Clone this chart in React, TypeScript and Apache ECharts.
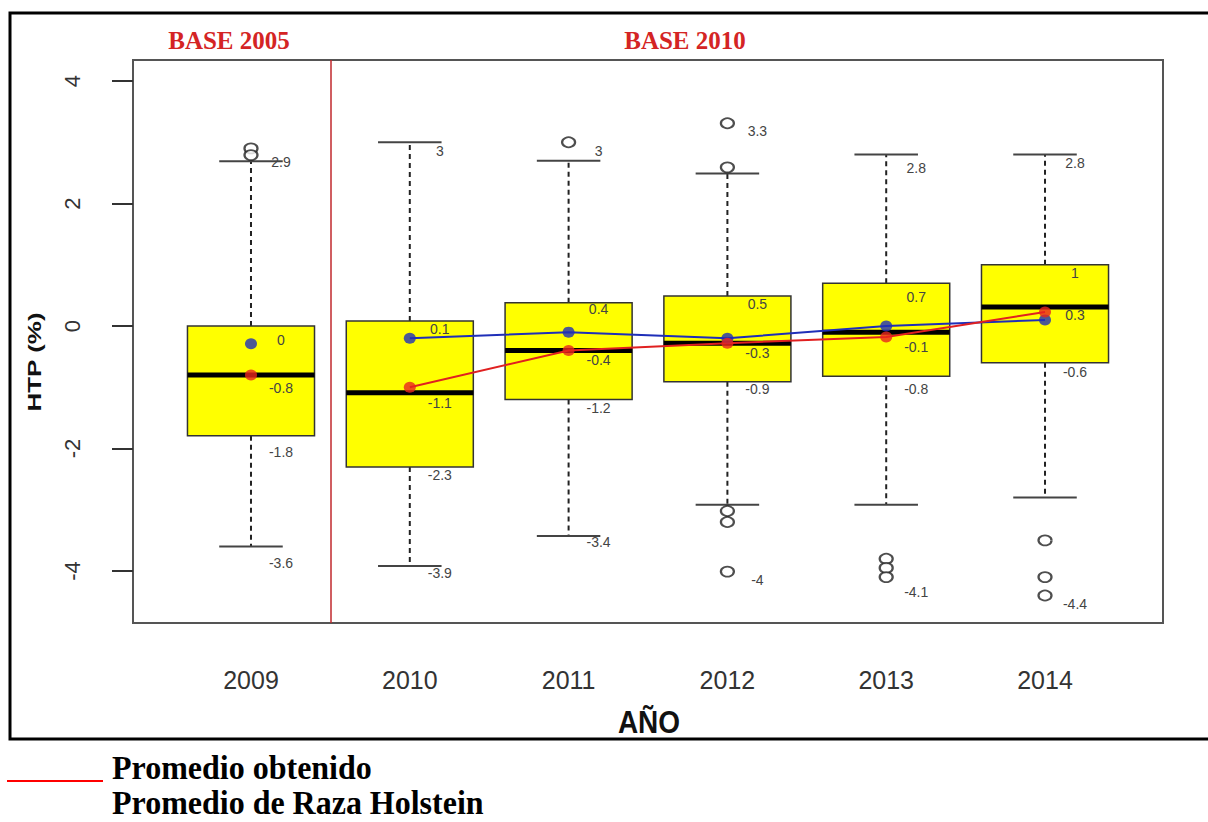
import React, { useEffect, useRef } from "react";
import * as echarts from "echarts";

// ---- data ----
const years = [2009, 2010, 2011, 2012, 2013, 2014];
const whiskerLow = [-3.6, -3.92, -3.43, -2.92, -2.92, -2.8];
const q1 = [-1.79, -2.3, -1.2, -0.91, -0.82, -0.6];
const median = [-0.8, -1.09, -0.4, -0.28, -0.1, 0.31];
const q3 = [0.0, 0.08, 0.38, 0.49, 0.7, 1.0];
const whiskerHigh = [2.69, 3.0, 2.7, 2.49, 2.8, 2.8];
const outliers: [number, number][] = [
  [2009, 2.9], [2009, 2.79],
  [2011, 3.0],
  [2012, 3.31], [2012, 2.59], [2012, -3.02], [2012, -3.2], [2012, -4.01],
  [2013, -3.8], [2013, -3.95], [2013, -4.1],
  [2014, -3.5], [2014, -4.1], [2014, -4.4],
];
const meanObtained = [-0.8, -1.0, -0.4, -0.28, -0.18, 0.23];
const meanHolstein = [-0.29, -0.2, -0.1, -0.2, 0.0, 0.1];

// annotation texts per year and where they sit (in axis units)
const annotTexts = [
  ["2.9", "0", "-0.8", "-1.8", "-3.6"],
  ["3", "0.1", "-1.1", "-2.3", "-3.9"],
  ["3", "0.4", "-0.4", "-1.2", "-3.4"],
  ["3.3", "0.5", "-0.3", "-0.9", "-4"],
  ["2.8", "0.7", "-0.1", "-0.8", "-4.1"],
  ["2.8", "1", "0.3", "-0.6", "-4.4"],
];
const annotY = [
  [2.68, -0.23, -1.01, -2.06, -3.87],
  [2.86, -0.05, -1.26, -2.43, -4.03],
  [2.86, 0.28, -0.56, -1.34, -3.53],
  [3.18, 0.36, -0.44, -1.03, -4.15],
  [2.58, 0.47, -0.34, -1.03, -4.34],
  [2.66, 0.87, 0.18, -0.75, -4.54],
];
const yTicks = [-4, -2, 0, 2, 4];
const baseLabels = ["BASE 2005", "BASE 2010"];
const legendLabels = ["Promedio obtenido", "Promedio de Raza Holstein"];
const xTitle = "AÑO";
const yTitle = "HTP (%)";

export default function App() {
  const ref = useRef<HTMLDivElement>(null);
  useEffect(() => {
    if (!ref.current) return;
    const chart = echarts.init(ref.current, undefined, { renderer: "svg" });

    const boxData = years.map((y, i) => [y, whiskerLow[i], q1[i], median[i], q3[i], whiskerHigh[i]]);
    const annotFlat: { x: number; y: number; t: string }[] = [];
    years.forEach((yr, i) => {
      annotTexts[i].forEach((t, j) => annotFlat.push({ x: yr, y: annotY[i][j], t }));
    });

    const option: any = {
      animation: false,
      backgroundColor: "#fff",
      grid: {
        left: 133, top: 60, right: 45, bottom: 199,
        show: true, borderColor: "#555", borderWidth: 2, backgroundColor: "transparent",
      },
      xAxis: {
        type: "value",
        min: 2008.257,
        max: 2014.743,
        splitLine: { show: false },
        axisLine: { show: false },
        axisTick: { show: true, length: 17, lineStyle: { color: "#333", width: 2 }, customValues: years },
        axisLabel: {
          customValues: years,
          formatter: (v: number) => String(v),
          fontSize: 25,
          color: "#333",
          fontFamily: "Liberation Sans",
          margin: 44,
        },
      },
      yAxis: {
        type: "value",
        min: -4.849,
        max: 4.343,
        splitLine: { show: false },
        axisLine: { show: false },
        axisTick: { show: true, length: 21, lineStyle: { color: "#333", width: 2 }, customValues: yTicks },
        axisLabel: {
          customValues: yTicks,
          formatter: (v: number) => String(v),
          rotate: 90,
          fontSize: 22,
          color: "#333",
          fontFamily: "Liberation Sans",
          margin: 50,
        },
      },
      graphic: [
        { type: "rect", shape: { x: 10, y: 13, width: 1220, height: 726 }, style: { fill: "none", stroke: "#000", lineWidth: 3 }, z: 100 },
        { type: "text", x: 229, y: 40, style: { text: baseLabels[0], font: 'bold 25px "Liberation Serif"', fill: "#d42424", align: "center", verticalAlign: "middle" } },
        { type: "text", x: 685, y: 40, style: { text: baseLabels[1], font: 'bold 25px "Liberation Serif"', fill: "#d42424", align: "center", verticalAlign: "middle" } },
        { type: "text", x: 34, y: 362, rotation: Math.PI / 2, scaleY: 0.72, style: { text: yTitle, font: 'bold 26px "Liberation Sans"', fill: "#111", align: "center", verticalAlign: "middle" } },
        { type: "text", x: 649, y: 722, scaleY: 1.12, style: { text: xTitle, font: 'bold 28px "Liberation Sans"', fill: "#111", align: "center", verticalAlign: "middle" } },
        { type: "line", shape: { x1: 7, y1: 781, x2: 103, y2: 781 }, style: { stroke: "#ff0000", lineWidth: 2 } },
        { type: "text", x: 112, y: 767, scaleY: 1.08, style: { text: legendLabels[0], font: 'bold 32px "Liberation Serif"', fill: "#000", align: "left", verticalAlign: "middle" } },
        { type: "text", x: 112, y: 803, scaleY: 1.04, style: { text: legendLabels[1], font: 'bold 32px "Liberation Serif"', fill: "#000", align: "left", verticalAlign: "middle" } },
      ],
      series: [
        {
          type: "custom",
          name: "box",
          z: 2,
          data: boxData,
          encode: { x: 0, y: [1, 2, 3, 4, 5] },
          renderItem: (params: any, api: any) => {
            const x = api.value(0);
            const pLow = api.coord([x, api.value(1)]);
            const p1 = api.coord([x, api.value(2)]);
            const pMed = api.coord([x, api.value(3)]);
            const p3 = api.coord([x, api.value(4)]);
            const pHigh = api.coord([x, api.value(5)]);
            const halfW = api.size([0.8, 0])[0] / 2;
            const capHalf = api.size([0.4, 0])[0] / 2;
            const cx = pLow[0];
            const dash = { stroke: "#222", lineWidth: 2, lineDash: [5, 4] };
            const cap = { stroke: "#444", lineWidth: 2 };
            return {
              type: "group",
              children: [
                { type: "line", shape: { x1: cx, y1: p3[1], x2: cx, y2: pHigh[1] }, style: dash },
                { type: "line", shape: { x1: cx, y1: p1[1], x2: cx, y2: pLow[1] }, style: dash },
                { type: "line", shape: { x1: cx - capHalf, y1: pHigh[1], x2: cx + capHalf, y2: pHigh[1] }, style: cap },
                { type: "line", shape: { x1: cx - capHalf, y1: pLow[1], x2: cx + capHalf, y2: pLow[1] }, style: cap },
                { type: "rect", shape: { x: cx - halfW, y: p3[1], width: 2 * halfW, height: p1[1] - p3[1] }, style: { fill: "#ffff00", stroke: "#333", lineWidth: 1.5 } },
                { type: "line", shape: { x1: cx - halfW, y1: pMed[1], x2: cx + halfW, y2: pMed[1] }, style: { stroke: "#000", lineWidth: 5 } },
              ],
            };
          },
        },
        {
          type: "line",
          name: "Promedio de Raza Holstein",
          z: 3,
          data: years.slice(1).map((y, i) => [y, meanHolstein[i + 1]]),
          showSymbol: false,
          lineStyle: { color: "#1f2fb8", width: 2 },
          markLine: {
            silent: true,
            symbol: ["none", "none"],
            label: { show: false },
            lineStyle: { color: "#c0282d", width: 1.5, type: "solid" },
            data: [{ xAxis: 2009.5 }],
          },
        },
        {
          type: "line",
          name: "Promedio obtenido",
          z: 3,
          data: years.slice(1).map((y, i) => [y, meanObtained[i + 1]]),
          showSymbol: false,
          lineStyle: { color: "#e02020", width: 2 },
        },
        {
          type: "scatter",
          z: 4,
          data: years.map((y, i) => [y, meanHolstein[i]]),
          symbol: "circle",
          symbolSize: [12, 11],
          itemStyle: { color: "#1f2fb8" },
        },
        {
          type: "scatter",
          z: 4,
          data: years.map((y, i) => [y, meanObtained[i]]),
          symbol: "circle",
          symbolSize: [12, 11],
          itemStyle: { color: "#e8261e" },
        },
        {
          type: "scatter",
          z: 4,
          data: outliers,
          symbol: "emptyCircle",
          symbolSize: [13, 10],
          itemStyle: { color: "#222", borderWidth: 1.5 },
        },
        {
          type: "custom",
          z: 5,
          data: annotFlat.map((a) => [a.x, a.y]),
          encode: { x: 0, y: 1 },
          renderItem: (params: any, api: any) => {
            const p = api.coord([api.value(0), api.value(1)]);
            return {
              type: "text",
              x: p[0] + 30,
              y: p[1],
              style: {
                text: annotFlat[params.dataIndex].t,
                font: '14px "Liberation Sans"',
                fill: "#444",
                align: "center",
                verticalAlign: "middle",
              },
            };
          },
        },
      ],
    };
    chart.setOption(option);
    return () => chart.dispose();
  }, []);

  return (
    <div
      ref={ref}
      style={{ position: "absolute", left: 0, top: 0, width: 1208, height: 822, background: "#fff" }}
    />
  );
}
